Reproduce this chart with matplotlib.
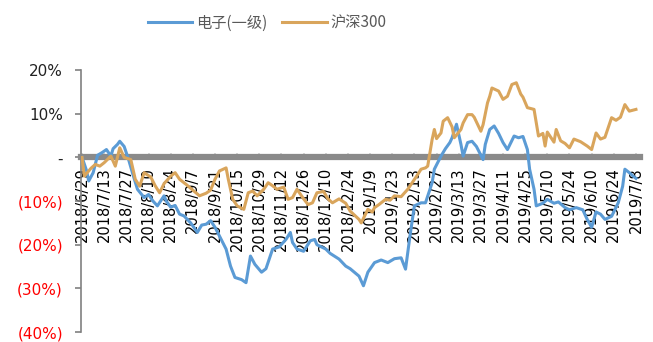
import matplotlib
matplotlib.use('Agg')
import matplotlib.pyplot as plt

# trading-day index (0 = 2018/6/29) and relative return in %
elec_day = [0, 2, 3, 5, 7, 9, 11, 13, 14, 16, 17, 19, 21, 23, 25, 28, 30, 32, 34, 37,
            38, 40, 42, 44, 46, 49, 50, 52, 54, 56, 58, 60, 62, 65, 67, 69, 72, 74, 76, 78,
            81, 83, 86, 89, 92, 94, 95, 97, 100, 103, 105, 106, 110, 112, 116, 119, 121, 125, 127, 129,
            132, 135, 138, 141, 144, 146, 148, 150, 153, 155, 158, 159, 162, 164, 166, 167, 169, 171, 172, 174,
            176, 178, 181, 182, 184, 186, 188, 190, 192, 195, 197, 199, 201, 202, 204, 205, 208, 210, 213, 215,
            218, 220, 223, 226, 228, 230, 232, 234, 236, 239, 242, 244, 245, 247, 249, 250]
elec_val = [0, -3, -5.4, -3.5, 0.5, 1.1, 1.8, 0.3, 2.0, 3.0, 3.7, 2.5, -0.5, -4, -7.3, -9.2, -8.5, -10, -11.1, -8.8,
            -10, -11.4, -11, -13, -13.4, -15, -15.7, -17.2, -15.5, -15.3, -14.5, -16, -18, -21, -24.9, -27.5, -28, -28.7, -22.6, -24.5,
            -26.3, -25.5, -21, -20.5, -18.8, -17.2, -19.5, -21, -21.5, -19.1, -18.8, -20, -21, -22, -23.3, -24.9, -25.5, -27.2, -29.4, -26.3,
            -24.1, -23.5, -24.1, -23.2, -23, -25.6, -18, -11.1, -10.4, -10.4, -5.8, -2.7, 0.3, 2, 3.4, 4.5, 7.6, 3, 0.3, 3.4,
            3.7, 2.5, -0.5, 3, 6.4, 7.2, 5.5, 3.4, 1.8, 4.9, 4.5, 4.8, 1.8, -2.7, -7.3, -11.1, -10.5, -9.6, -10.5, -10.2,
            -11.5, -12, -11.5, -12, -14.2, -16, -12.5, -13, -14.2, -13.5, -10.4, -6.6, -2.7, -3.5, -4.4, -4.8]

hs300_day = [0, 1, 4, 6, 8, 10, 13, 15, 17, 19, 22, 24, 26, 28, 31, 33, 35, 37, 40, 42,
             44, 47, 50, 53, 56, 58, 60, 62, 65, 66, 68, 70, 73, 75, 77, 79, 82, 84, 86, 88,
             91, 93, 95, 97, 100, 102, 104, 106, 109, 111, 113, 116, 119, 121, 125, 126, 129, 131, 132, 134,
             137, 139, 141, 144, 147, 149, 151, 153, 155, 156, 158, 159, 160, 162, 163, 165, 167, 168, 171, 172,
             174, 176, 177, 180, 181, 183, 184, 185, 188, 190, 192, 194, 196, 198, 199, 201, 204, 206, 208, 209,
             210, 213, 214, 216, 218, 220, 222, 225, 228, 230, 232, 234, 236, 239, 241, 243, 245, 247, 250]
hs300_val = [0, -4.3, -2.5, -1.6, -2, -1.2, 0.3, -2, 2.2, 0, -0.5, -5, -6.6, -3.5, -4.5, -6.5, -8.1, -6, -4.3, -3.5,
             -5, -6.2, -7.5, -8.8, -8.2, -7.5, -5, -3.1, -2.4, -5, -9.6, -11.1, -11.9, -8.1, -7.7, -8.8, -7.3, -5.8, -6.5, -7.3,
             -6.8, -9.6, -9.2, -7.3, -9.5, -10.8, -10.4, -8.1, -7.8, -9.5, -10.4, -9.5, -10.5, -12.3, -14.2, -15, -11.9, -12.5, -11.5, -10.8,
             -9.6, -9.8, -8.8, -9, -7.3, -5.8, -4.3, -2.7, -2.4, -2, 4.1, 6.4, 4.3, 5.6, 8.3, 9.1, 7, 4.5, 6.4, 7.9,
             9.8, 9.8, 9.2, 6, 7.5, 12.5, 14, 15.9, 15.2, 13.3, 14, 16.7, 17.1, 14.5, 13.8, 11.4, 11, 4.9, 5.5, 2.6,
             5.8, 3.5, 6.4, 3.8, 3.2, 2.2, 4.2, 3.6, 2.6, 1.8, 5.6, 4.2, 4.6, 9.1, 8.5, 9.2, 12.1, 10.6, 11]

date_labels = ['2018/6/29', '2018/7/13', '2018/7/27', '2018/8/10', '2018/8/24', '2018/9/7', '2018/9/21',
               '2018/10/15', '2018/10/29', '2018/11/12', '2018/11/26', '2018/12/10', '2018/12/24',
               '2019/1/9', '2019/1/23', '2019/2/13', '2019/2/27', '2019/3/13', '2019/3/27', '2019/4/11',
               '2019/4/25', '2019/5/10', '2019/5/24', '2019/6/10', '2019/6/24', '2019/7/8']
label_days = list(range(0, 251, 10))

y_ticks = [20, 10, 0, -10, -20, -30, -40]
y_labels = ['20%', '10%', '-', '(10%)', '(20%)', '(30%)', '(40%)']

plt.rcParams['font.family'] = ['DejaVu Sans']

fig = plt.figure(figsize=(6.53, 3.42), dpi=100)
ax = fig.add_axes([0.124, 0.0292, 0.856, 0.7658])

ax.plot(elec_day, elec_val, color='#5B9BD5', lw=2.2, zorder=4, label='电子(一级)')
ax.plot(hs300_day, hs300_val, color='#D9A55C', lw=2.2, zorder=4, label='沪深300')

ax.set_xlim(-0.5, 251.8)
ax.set_ylim(-40, 20)

# axes look: left gray spine, thick gray zero line as x axis
for s in ['top', 'right']:
    ax.spines[s].set_visible(False)
ax.spines['left'].set_color('#808080')
ax.spines['left'].set_linewidth(1.2)
ax.spines['bottom'].set_position(('data', 0))
ax.spines['bottom'].set_color('#8a8a8a')
ax.spines['bottom'].set_linewidth(4.5)
ax.spines['bottom'].set_zorder(3)

ax.set_yticks(y_ticks)
ax.set_yticklabels(y_labels, fontsize=11)
for lab, v in zip(ax.get_yticklabels(), y_ticks):
    lab.set_color('#FF0000' if v < 0 else '#222222')
ax.tick_params(axis='y', direction='out', length=4, width=1.2, color='#808080', pad=9)

ax.set_xticks(label_days)
ax.set_xticklabels(date_labels, rotation=90, fontsize=10.5, va='top', ha='center')
ax.tick_params(axis='x', direction='in', length=3, width=1.2, color='#d0d0d0', pad=7)

leg = fig.legend(loc='center', bbox_to_anchor=(0.409, 0.933), ncol=2, frameon=False,
                 handlelength=2.9, handletextpad=0.25, columnspacing=1.0,
                 prop={'family': ['Noto Sans CJK SC', 'DejaVu Sans'], 'size': 11})
for t in leg.get_texts():
    t.set_color('#595959')

fig.savefig('out.png', dpi=100)
